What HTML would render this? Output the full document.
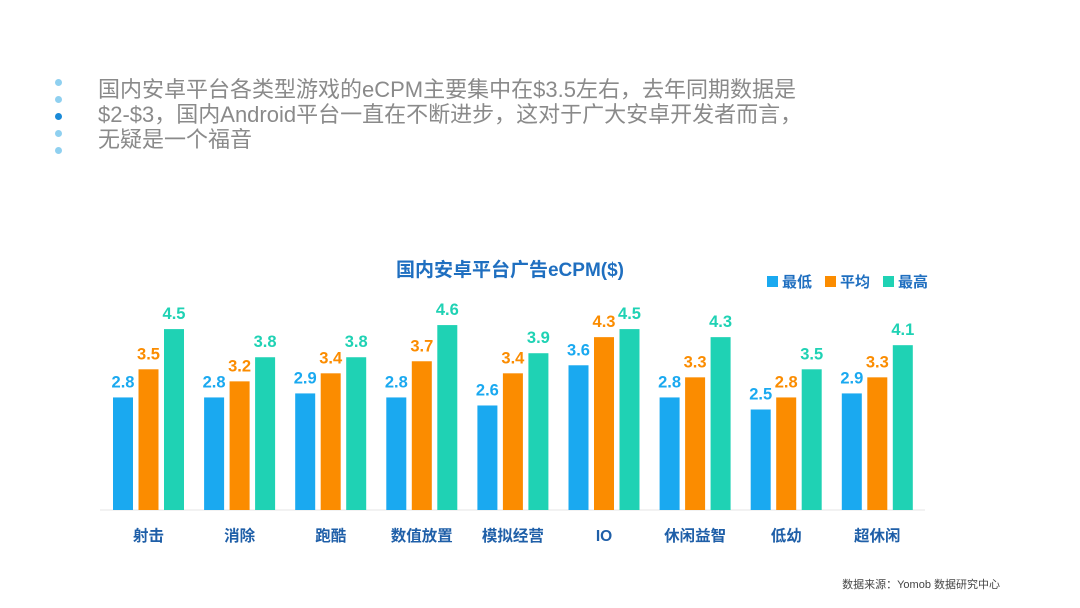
<!DOCTYPE html>
<html><head><meta charset="utf-8"><style>
body{margin:0;width:1080px;height:608px;background:#fff;overflow:hidden;font-family:"Liberation Sans","Noto Sans CJK SC",sans-serif;position:relative}
.b{position:absolute;left:55px;width:7px;height:7px;border-radius:50%;background:#8fd0f0}
#txt{position:absolute;left:98px;top:77px;font-size:22px;line-height:25px;color:#8a8a8a;letter-spacing:0px}
</style></head><body>
<div class="b" style="top:79px"></div>
<div class="b" style="top:96px"></div>
<div class="b" style="top:113px;background:#1a8ad8"></div>
<div class="b" style="top:130px"></div>
<div class="b" style="top:147px"></div>
<div id="txt">国内安卓平台各类型游戏的eCPM主要集中在$3.5左右，去年同期数据是<br>$2-$3，国内Android平台一直在不断进步，这对于广大安卓开发者而言，<br>无疑是一个福音</div>
<svg id="chart" width="1080" height="608" style="position:absolute;left:0;top:0">
<text x="510" y="276" text-anchor="middle" font-size="19" font-weight="bold" fill="#1f6fc0">国内安卓平台广告eCPM($)</text>
<g id="legend"></g>
<line x1="100" y1="510" x2="925" y2="510" stroke="#e5e5e5"/>
<g id="bars"></g>
<text x="1000" y="588" text-anchor="end" font-size="11" fill="#444">数据来源：Yomob 数据研究中心</text>
</svg>
<script>
const categories=["射击","消除","跑酷","数值放置","模拟经营","IO","休闲益智","低幼","超休闲"];
const seriesNames=["最低","平均","最高"];
const lowVals=[2.8,2.8,2.9,2.8,2.6,3.6,2.8,2.5,2.9];
const avgVals=[3.5,3.2,3.4,3.7,3.4,4.3,3.3,2.8,3.3];
const highVals=[4.5,3.8,3.8,4.6,3.9,4.5,4.3,3.5,4.1];
const colors=["#1aa9f0","#fb8c00","#1fd2b4"];
const NS="http://www.w3.org/2000/svg";
const base=510,scale=40.2;
const y=v=>base-v*scale;
const xc=i=>148.5+i*91.1;
const g=document.getElementById('bars');
const all=[lowVals,avgVals,highVals];
function mk(t,a){const e=document.createElementNS(NS,t);for(const k in a)e.setAttribute(k,a[k]);return e;}
categories.forEach((c,i)=>{
  all.forEach((s,j)=>{
    const x=xc(i)-35.5+j*25.5;
    const r=mk('rect',{x:x,y:y(s[i]),width:20,height:s[i]*scale,fill:colors[j]});
    
    
    g.appendChild(r);
    const t=mk('text',{x:x+10,y:y(s[i])-10,'text-anchor':'middle','font-size':'16.5','font-weight':'bold',fill:colors[j]});
    t.textContent=s[i].toFixed(1);
    
    
    g.appendChild(t);
  });
  const l=mk('text',{x:xc(i),y:541,'text-anchor':'middle','font-size':'15.5','font-weight':'bold',fill:'#1f5fa8'});
  l.textContent=c;
  
  
  g.appendChild(l);
});
const lg=document.getElementById('legend');
const lx=[767,825,883];
seriesNames.forEach((n,j)=>{
  const r=mk('rect',{x:lx[j],y:276,width:11,height:11,fill:colors[j]});
  
  
  lg.appendChild(r);
  const t=mk('text',{x:lx[j]+15,y:287,'font-size':'15','font-weight':'bold',fill:'#1f6fc0'});
  t.textContent=n;
  
  
  lg.appendChild(t);
});
</script>
</body></html>
